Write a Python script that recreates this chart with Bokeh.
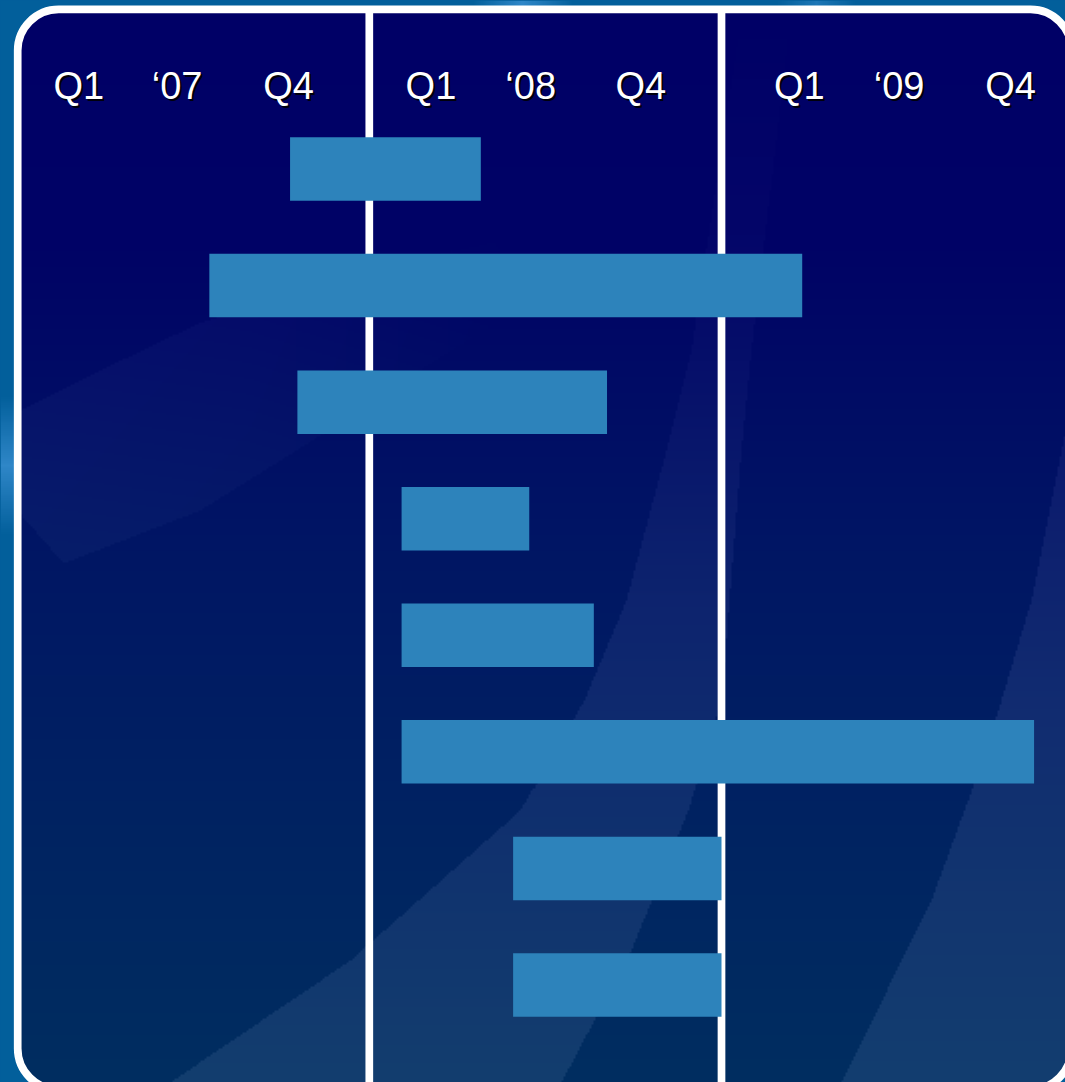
import numpy as np
from bokeh.plotting import figure
from bokeh.models import Range1d, BoxAnnotation, GlobalInlineStyleSheet
from bokeh.core.properties import value
from bokeh.embed import file_html
from bokeh.resources import INLINE

# ---------------- data ----------------
# time axis in months counted from January 2007
bar_start = [9.3, 6.55, 9.55, 13.1, 13.1, 13.1, 16.9, 16.9]
bar_end = [15.8, 26.75, 20.1, 17.45, 19.65, 34.65, 24.0, 24.0]
year_edges = [12, 24]
tick_labels = ["Q1", "\u201807", "Q4", "Q1", "\u201808", "Q4", "Q1", "\u201809", "Q4"]
tick_x = [2.1, 5.45, 9.25, 14.1, 17.5, 21.25, 26.65, 30.05, 33.85]

# ---------------- layout helpers (pixel -> data) ----------------
W, H = 1065, 1082
X0, PXM = 16.6, 29.35        # px of Jan 2007, px per month
Y0, RPX = 168.5, 116.57      # px of first row centre, px per row
n = len(bar_start)


def dx(px):
    return (px - X0) / PXM


def dy(py):
    return (n - 1) - (py - Y0) / RPX


rows = [(n - 1) - i for i in range(n)]

# ---------------- decorative background image ----------------
step = 2
xs = np.arange(0, W + 1, step) + step / 2
ys = np.arange(0, H, step) + step / 2
X, Y = np.meshgrid(xs, ys)

gy = [0, 250, 550, 800, 1082]
r = np.interp(Y, gy, [0, 0, 0, 0, 0])
g = np.interp(Y, gy, [0, 3, 22, 34, 46])
b = np.interp(Y, gy, [102, 102, 100, 98, 96])

# swoosh B (tapered band rising from bottom-left)
Lx = np.interp(Y, [13, 350, 450, 600, 700, 810, 960, 1082], [740, 690, 665, 625, 583, 520, 350, 170])
Rx = np.interp(Y, [13, 350, 450, 700, 810, 950, 1082], [790, 750, 740, 720, 687, 630, 560])
fB = np.interp(Y, [0, 350, 600, 1082], [0.0, 0.3, 0.7, 1.0]) * ((X > Lx) & (X < Rx))
# swoosh C (right edge)
Cx = np.interp(Y, [350, 450, 600, 750, 900, 1082], [1080, 1060, 1030, 985, 930, 840])
fC = np.interp(Y, [350, 700, 1082], [0.5, 0.9, 1.0]) * (X > Cx)
# faint band A (upper left)
ytop = np.interp(X, [21, 100, 200, 300, 400, 500], [410, 370, 322, 290, 262, 240])
ybot = np.interp(X, [21, 63, 200, 333, 420, 500], [515, 563, 510, 427, 370, 320])
fA = np.interp(X, [21, 250, 500], [0.5, 0.35, 0.0]) * ((Y > ytop) & (Y < ybot))

f = np.maximum(fB, fC)
r = r + 19 * f + 14 * fA
g = g + 16 * f + 14 * fA
b = b + 15 * f + 12 * fA

# panel mask (rounded rectangle)
pl, pt, pr, pb, rad = 17.2, 8.9, 1071.0, 1089.0, 41
qx = np.maximum(np.maximum(pl + rad - X, X - (pr - rad)), 0)
qy = np.maximum(np.maximum(pt + rad - Y, Y - (pb - rad)), 0)
inside = (X > pl) & (X < pr) & (Y > pt) & (Y < pb) & (qx ** 2 + qy ** 2 <= rad ** 2)

orr = np.full_like(X, 2.0)
org = np.full_like(X, 95.0)
orb = np.full_like(X, 155.0)
lite = np.clip(1 - np.abs(Y - 465) / 70, 0, 1) * (X < 14)
lite = np.maximum(lite, np.clip(1 - np.abs(X - 522) / 50, 0, 1) * (Y < 6))
lite = np.maximum(lite, 0.6 * np.clip(1 - np.abs(X - 815) / 40, 0, 1) * (Y < 6))
orr = orr + 45 * lite
org = org + 40 * lite
orb = orb + 45 * lite

R = np.where(inside, r, orr)
G = np.where(inside, g, org)
B = np.where(inside, b, orb)

img = np.empty(X.shape, dtype=np.uint32)
view = img.view(dtype=np.uint8).reshape(X.shape + (4,))
view[..., 0] = np.clip(R, 0, 255).astype(np.uint8)
view[..., 1] = np.clip(G, 0, 255).astype(np.uint8)
view[..., 2] = np.clip(B, 0, 255).astype(np.uint8)
view[..., 3] = 255
img = img[::-1]

# ---------------- figure ----------------
p = figure(width=W, height=H,
           x_range=Range1d(dx(0), dx(W)), y_range=Range1d(dy(H), dy(0)),
           x_axis_type=None, y_axis_type=None,
           output_backend="svg", toolbar_location=None,
           min_border=0, outline_line_color=None,
           background_fill_color="#025f9b", border_fill_color="#025f9b")
p.grid.visible = False
p.stylesheets = [GlobalInlineStyleSheet(css="html,body{margin:0;padding:0;overflow:hidden;background:#025f9b;}")]

p.image_rgba(image=[img], x=dx(0), y=dy(H), dw=dx(W + step) - dx(0), dh=dy(0) - dy(H))

# year separators
p.segment(x0=year_edges, x1=year_edges, y0=dy(H + 5), y1=dy(10),
          line_color="white", line_width=7.7)

# bars
p.hbar(y=rows, left=bar_start, right=bar_end, height=63.5 / RPX,
       fill_color="#2d83bb", line_color=None)

# quarter / year labels with drop shadow
label_y = [dy(85)] * len(tick_labels)
p.text(x=tick_x, y=label_y, text=tick_labels, text_font=value("Liberation Sans"),
       text_font_size="38px", text_color="black", text_alpha=0.9,
       text_align="center", text_baseline="alphabetic", x_offset=2, y_offset=2)
p.text(x=tick_x, y=label_y, text=tick_labels, text_font=value("Liberation Sans"),
       text_font_size="38px", text_color="white",
       text_align="center", text_baseline="alphabetic")

# white rounded frame
frame = BoxAnnotation(left=dx(pl), right=dx(pr), top=dy(pt), bottom=dy(pb),
                      fill_color=None, fill_alpha=0, line_color="white",
                      line_alpha=1.0, line_width=7.7, border_radius=rad)
p.add_layout(frame)

open("out.html", "w").write(file_html(p, INLINE))
